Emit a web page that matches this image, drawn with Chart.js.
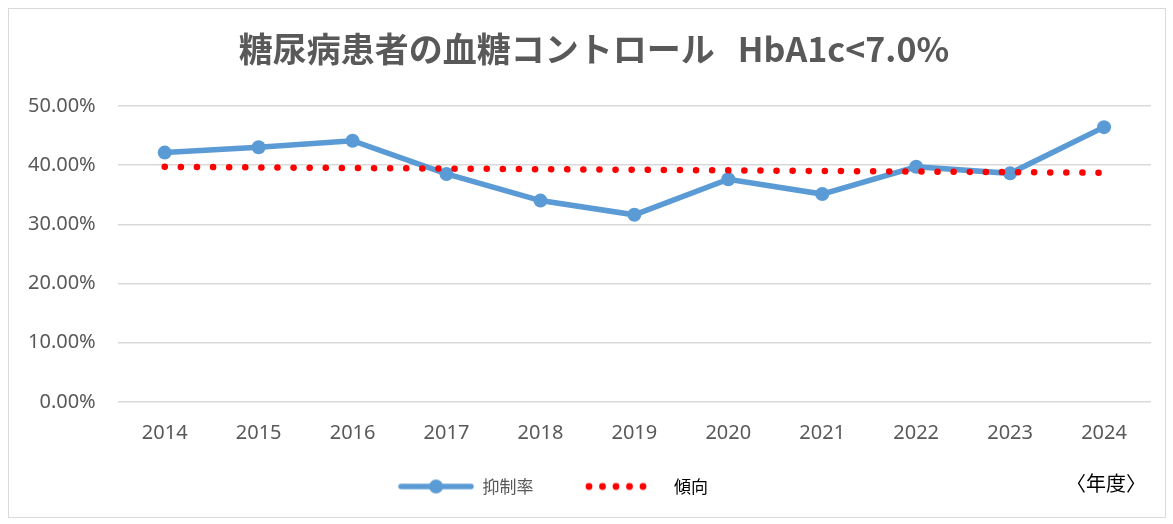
<!DOCTYPE html>
<html lang="ja">
    <head>
        <meta charset="UTF-8">
        <title>糖尿病患者の血糖コントロール</title>
        <style>
            body { margin: 0; background: #fff; }
            .chart-container { position: absolute; left: 8px; top: 8px; width: 1156px; height: 508px; border: 1px solid #d9d9d9; }
        </style>
    </head>
    <body>
        <div class="chart-container">
            <canvas id="myChart"></canvas>
        </div>
    </body>
    <script src="https://cdn.jsdelivr.net/npm/chart.js@4.4.0/dist/chart.umd.min.js"></script>
    <script>
        // values (percent)
        const years = ['2014', '2015', '2016', '2017', '2018', '2019', '2020', '2021', '2022', '2023', '2024']
        const rate = [42.1, 43.0, 44.1, 38.5, 34.0, 31.6, 37.6, 35.1, 39.7, 38.6, 46.4]
        const trend = [39.7, 39.6, 39.5, 39.4, 39.3, 39.2, 39.1, 39.0, 38.9, 38.8, 38.7]

        const gray = '#595959'
        const jpFont = '"Noto Sans CJK JP", "Noto Sans", sans-serif'
        const numFont = '"Noto Sans", sans-serif'

        // little legend icons: line with a dot, and a row of red dots
        function lineMarkerIcon() {
            const c = document.createElement('canvas')
            c.width = 76; c.height = 16
            const g = c.getContext('2d')
            g.strokeStyle = '#5b9bd5'; g.lineWidth = 5.5; g.lineCap = 'round'
            g.beginPath(); g.moveTo(3, 8); g.lineTo(73, 8); g.stroke()
            g.fillStyle = '#5b9bd5'
            g.beginPath(); g.arc(38, 8, 7, 0, Math.PI * 2); g.fill()
            return c
        }
        function dotsIcon() {
            const c = document.createElement('canvas')
            c.width = 85; c.height = 16
            const g = c.getContext('2d')
            g.fillStyle = '#ff0000'
            for (let i = 0; i < 5; i++) {
                g.beginPath(); g.arc(4 + i * 13.5, 8, 3.4, 0, Math.PI * 2); g.fill()
            }
            return c
        }

        const yearLabel = {
            id: 'yearLabel',
            afterDraw(chart) {
                const g = chart.ctx
                g.save()
                g.font = '20px ' + jpFont
                g.fillStyle = '#000'
                g.textAlign = 'right'
                g.textBaseline = 'middle'
                g.fillText('〈年度〉', 1137, 474)
                g.restore()
            }
        }

        const ctx = document.getElementById('myChart')

        new Chart(ctx, {
            type: 'line',
            data: {
                labels: years,
                datasets: [{
                    label: '抑制率',
                    data: rate,
                    borderColor: '#5b9bd5',
                    backgroundColor: '#5b9bd5',
                    borderWidth: 5.5,
                    pointRadius: 7,
                    pointHoverRadius: 7,
                    pointBorderWidth: 0,
                    pointStyle: 'circle',
                    tension: 0,
                    order: 2
                }, {
                    label: '傾向',
                    data: trend,
                    borderColor: '#ff0000',
                    backgroundColor: '#ff0000',
                    borderWidth: 6.5,
                    borderDash: [0.1, 16],
                    borderCapStyle: 'round',
                    pointRadius: 0,
                    tension: 0,
                    order: 1
                }]
            },
            options: {
                responsive: true,
                maintainAspectRatio: false,
                animation: false,
                layout: { padding: { left: -3, right: 14, top: 12, bottom: 12 } },
                plugins: {
                    title: {
                        display: true,
                        text: '    糖尿病患者の血糖コントロール   HbA1c<7.0%',
                        color: gray,
                        font: { family: jpFont, size: 34, weight: 'bold' },
                        padding: { top: 8, bottom: 36 }
                    },
                    legend: {
                        position: 'bottom',
                        labels: {
                            usePointStyle: true,
                            pointStyleWidth: 76,
                            color: gray,
                            font: { family: jpFont, size: 17 },
                            padding: 22,
                            generateLabels: function(chart) {
                                return [
                                    { text: '抑制率\u3000\u3000', pointStyle: lineMarkerIcon(), datasetIndex: 0, fontColor: gray },
                                    { text: '傾向\u3000\u3000\u3000', pointStyle: dotsIcon(), datasetIndex: 1, fontColor: '#000' }
                                ]
                            }
                        }
                    },
                    tooltip: { enabled: false }
                },
                scales: {
                    x: {
                        offset: true,
                        grid: { display: false },
                        border: { display: false },
                        ticks: { color: gray, font: { family: numFont, size: 20 }, padding: 11 }
                    },
                    y: {
                        min: 0,
                        max: 50,
                        grid: { color: '#d9d9d9', lineWidth: 1.5, drawTicks: false },
                        border: { display: false },
                        ticks: {
                            stepSize: 10,
                            color: gray,
                            padding: 22,
                            font: { family: numFont, size: 20 },
                            callback: v => v.toFixed(2) + '%'
                        }
                    }
                }
            },
            plugins: [yearLabel]
        })
    </script>
</html>
